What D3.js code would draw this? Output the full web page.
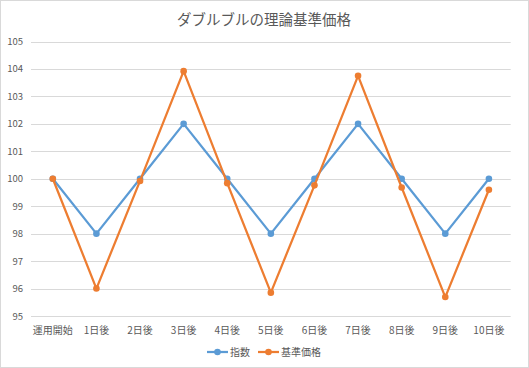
<!DOCTYPE html>
<html><head><meta charset="utf-8">
<script src="https://cdn.jsdelivr.net/npm/d3@7/dist/d3.min.js"></script>
<style>
html,body{margin:0;padding:0;background:#fff;}
svg{display:block;font-family:"Noto Sans CJK JP","Noto Sans",sans-serif;}
</style></head>
<body>
<script>
const categories = ["運用開始","1日後","2日後","3日後","4日後","5日後","6日後","7日後","8日後","9日後","10日後"];
const indexValues = [100, 98, 100, 102, 100, 98, 100, 102, 100, 98, 100];
const navValues = [100, 96, 99.92, 103.92, 99.84, 95.85, 99.76, 103.75, 99.68, 95.69, 99.6];
const yTicks = [95, 96, 97, 98, 99, 100, 101, 102, 103, 104, 105];
const seriesNames = ["指数", "基準価格"];
const colors = ["#5b9bd5", "#ed7d31"];
const title = "ダブルブルの理論基準価格";

const W = 529, H = 368;
const svg = d3.select("body").append("svg").attr("width", W).attr("height", H);
svg.append("rect").attr("x", 0.5).attr("y", 0.5).attr("width", W - 1).attr("height", H - 1)
  .attr("fill", "#fff").attr("stroke", "#d9d9d9");

const x = d3.scaleBand().domain(categories).range([31, 510.7]);
const y = d3.scaleLinear().domain([95, 105]).range([316, 41.5]);

svg.append("text").attr("x", 264).attr("y", 25).attr("text-anchor", "middle")
  .attr("font-size", "14.5px").attr("fill", "#595959").text(title);

// gridlines
svg.append("g").selectAll("line").data(yTicks).join("line")
  .attr("x1", x.range()[0]).attr("x2", x.range()[1])
  .attr("y1", d => Math.round(y(d)) + 0.5).attr("y2", d => Math.round(y(d)) + 0.5)
  .attr("stroke", "#d9d9d9").attr("stroke-width", 1);

// y axis labels
const yAxis = d3.axisLeft(y).tickValues(yTicks).tickSize(0).tickPadding(0);
const gy = svg.append("g").attr("transform", "translate(23,0)").call(yAxis);
gy.select(".domain").remove();
gy.selectAll("text").attr("font-size", "9.5px").attr("fill", "#595959")
  .attr("font-family", '"Noto Sans CJK JP","Noto Sans",sans-serif');

// x axis labels
const xAxis = d3.axisBottom(x).tickSize(0).tickPadding(0);
const gx = svg.append("g").attr("transform", "translate(0,327)").call(xAxis);
gx.select(".domain").remove();
gx.selectAll("text").attr("font-size", "10px").attr("fill", "#595959")
  .attr("font-family", '"Noto Sans CJK JP","Noto Sans",sans-serif');

const series = [indexValues, navValues];
const line = d3.line().x((d, i) => x(categories[i]) + x.bandwidth() / 2).y(d => y(d));
series.forEach((vals, si) => {
  svg.append("path").datum(vals).attr("d", line).attr("fill", "none")
    .attr("stroke", colors[si]).attr("stroke-width", 2.25).attr("stroke-linejoin", "round");
  svg.append("g").selectAll("circle").data(vals).join("circle")
    .attr("cx", (d, i) => x(categories[i]) + x.bandwidth() / 2)
    .attr("cy", d => y(d)).attr("r", 3.3).attr("fill", colors[si]);
});

// legend
const legX = [207, 258];
const legend = svg.append("g");
seriesNames.forEach((n, i) => {
  const g = legend.append("g").attr("transform", `translate(${legX[i]},352)`);
  g.append("line").attr("x1", 0).attr("x2", 21).attr("y1", 0).attr("y2", 0)
    .attr("stroke", colors[i]).attr("stroke-width", 2.25);
  g.append("circle").attr("cx", 10.5).attr("cy", 0).attr("r", 3.3).attr("fill", colors[i]);
  g.append("text").attr("x", 23).attr("y", 0).attr("dy", "0.35em")
    .attr("font-size", "10px").attr("fill", "#595959").text(n);
});
</script>
</body></html>
